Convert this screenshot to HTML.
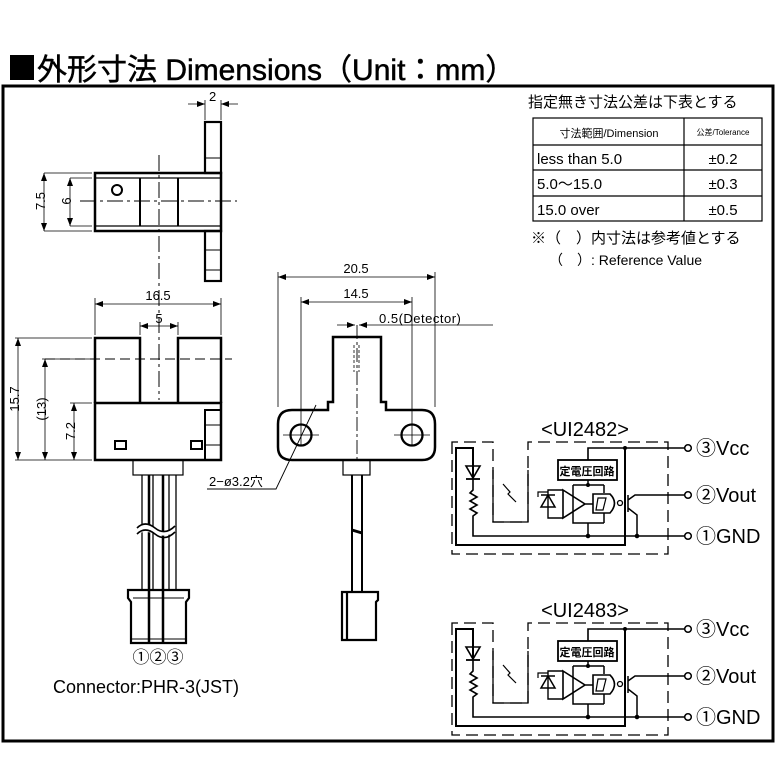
<!DOCTYPE html>
<html><head><meta charset="utf-8"><style>
html,body{margin:0;padding:0;background:#fff;}
svg{display:block;}
text{font-family:"Liberation Sans","Noto Sans CJK JP",sans-serif;fill:#000;}
</style></head><body>
<svg width="779" height="779" viewBox="0 0 779 779" xmlns="http://www.w3.org/2000/svg">
<defs>
<marker id="ar" markerWidth="8" markerHeight="6" refX="8" refY="3" orient="auto-start-reverse" markerUnits="userSpaceOnUse"><path d="M0,0 L8,3 L0,6 z" fill="#000"/></marker>
<g id="circ" fill="none" stroke="#000">
  <path d="M452,442 L452,554 L668,554 L668,442 L528,442 L528,522 L493,522 L493,442 Z" stroke-width="1.3" stroke-dasharray="12,6"/>
  <path d="M493,470 L493,522 L528,522 L528,470" stroke-width="1.3"/>
  <path d="M473,478 L473,448 L456,448 L456,545 L625,545 L625,448" stroke-width="2"/>
  <path d="M588,460 L588,448 L685,448" stroke-width="1.6"/>
  <path d="M466,466 L480,466 L473,478 Z" stroke-width="1.6"/>
  <path d="M466,479 L480,479" stroke-width="1.8"/>
  <path d="M473,479 L473,490 L470,493 L477,497 L470,501 L477,505 L470,509 L477,513 L473,516 L473,536 L685,536" stroke-width="1.6"/>
  <path d="M503,484 L510,492 L508,494 L516,502" stroke-width="1.2"/>
  <rect x="558" y="460" width="59" height="20" stroke-width="1.8"/>
  <path d="M588,480 L588,485 M573,485 L604,485 M573,485 L573,523 L604,523 M604,485 L604,493 M604,513 L604,523 M588,523 L588,536" stroke-width="1.5"/>
  <path d="M548,495 L548,490 L563,490 M548,512 L548,518 L563,518 M548,495 L548,512" stroke-width="1.4"/>
  <path d="M541,507 L555,507 L548,495 Z M541,495 L555,495" stroke-width="1.5"/>
  <path d="M538,497 L538,492 L548,492" stroke-width="1.2"/>
  <path d="M563,490 L585,504 L563,518 Z M585,504 L593,504" stroke-width="1.6"/>
  <path d="M593,494 L610,494 Q619,503 610,513 L593,513 Z" stroke-width="1.6"/>
  <path d="M598,498 L606,498 L603,510 L596,510 Z" stroke-width="1.2"/>
  <circle cx="620" cy="503" r="2.5" stroke-width="1.3"/>
  <path d="M628,495 L628,512 M628,500 L635,495 L685,495 M628,508 L637,515 L637,536" stroke-width="1.5"/>
  <circle cx="588" cy="536" r="1.8" fill="#000"/>
  <circle cx="637" cy="536" r="1.8" fill="#000"/>
  <circle cx="625" cy="448" r="1.5" fill="#000"/>
  <circle cx="588" cy="485" r="1.5" fill="#000"/>
  <circle cx="688" cy="448" r="3.3" fill="#fff" stroke-width="1.5"/>
  <circle cx="688" cy="495" r="3.3" fill="#fff" stroke-width="1.5"/>
  <circle cx="688" cy="536" r="3.3" fill="#fff" stroke-width="1.5"/>
</g>
</defs>

<rect x="10" y="55" width="24" height="25" fill="#000"/>
<text x="37" y="80" font-size="30" stroke="#000" stroke-width="0.5">外形寸法 Dimensions（Unit：mm）</text>
<rect x="3" y="86" width="770" height="655" fill="none" stroke="#000" stroke-width="3"/>

<g fill="none" stroke="#000">
<rect x="95" y="173" width="126" height="58" stroke-width="2.5"/>
<path d="M95,178 L221,178 M95,226 L221,226" stroke-width="1.2"/>
<path d="M140,178 L140,226 M178,178 L178,226" stroke-width="2"/>
<rect x="205" y="122" width="16" height="51" stroke-width="2.2"/>
<rect x="205" y="231" width="16" height="50" stroke-width="2.2"/>
<path d="M205,158 L221,158 M205,250 L221,250 M205,270 L221,270" stroke-width="1"/>
<circle cx="117" cy="190" r="5" stroke-width="2"/>
<path d="M80,201 L237,201" stroke-width="1" stroke-dasharray="16,4,3,4"/>
<path d="M159,155 L159,400" stroke-width="1" stroke-dasharray="16,4,3,4"/>
<path d="M205,120 L205,100 M221,120 L221,100" stroke-width="0.8"/>
<path d="M188,104 L205,104" stroke-width="0.8" marker-end="url(#ar)"/>
<path d="M238,104 L221,104" stroke-width="0.8" marker-end="url(#ar)"/>
<path d="M44,173 L92,173 M44,231 L92,231 M70,178 L92,178 M70,226 L92,226" stroke-width="0.8"/>
<path d="M44,190 L44,173" stroke-width="0.8" marker-end="url(#ar)"/>
<path d="M44,215 L44,231" stroke-width="0.8" marker-end="url(#ar)"/>
<path d="M44,190 L44,215 M70,190 L70,215" stroke-width="0.8"/>
<path d="M70,190 L70,178" stroke-width="0.8" marker-end="url(#ar)"/>
<path d="M70,215 L70,226" stroke-width="0.8" marker-end="url(#ar)"/>

<path d="M95,403 L95,338 L140,338 L140,403" stroke-width="2.5"/>
<path d="M178,403 L178,338 L221,338 L221,403" stroke-width="2.5"/>
<rect x="95" y="403" width="126" height="57" stroke-width="2.5"/>
<rect x="205" y="410" width="16" height="50" stroke-width="2"/>
<path d="M205,425 L221,425 M205,445 L221,445" stroke-width="1"/>
<rect x="115" y="441" width="11" height="8" stroke-width="2"/>
<rect x="191" y="441" width="11" height="8" stroke-width="2"/>
<path d="M45,359 L232,359" stroke-width="1" stroke-dasharray="10,5"/>
<path d="M95,335 L95,298 M221,335 L221,298 M140,335 L140,322 M178,335 L178,322" stroke-width="0.8"/>
<path d="M130,304 L95,304" stroke-width="0.8" marker-end="url(#ar)"/>
<path d="M190,304 L221,304" stroke-width="0.8" marker-end="url(#ar)"/>
<path d="M130,304 L190,304" stroke-width="0.8"/>
<path d="M159,326 L140,326" stroke-width="0.8" marker-end="url(#ar)"/>
<path d="M159,326 L178,326" stroke-width="0.8" marker-end="url(#ar)"/>
<path d="M15,338 L92,338 M15,460 L92,460 M42,359 L92,359 M70,403 L92,403" stroke-width="0.8"/>
<path d="M18,400 L18,338" stroke-width="0.8" marker-end="url(#ar)"/>
<path d="M18,400 L18,460" stroke-width="0.8" marker-end="url(#ar)"/>
<path d="M45,410 L45,359" stroke-width="0.8" marker-end="url(#ar)"/>
<path d="M45,410 L45,460" stroke-width="0.8" marker-end="url(#ar)"/>
<path d="M74,430 L74,403" stroke-width="0.8" marker-end="url(#ar)"/>
<path d="M74,430 L74,460" stroke-width="0.8" marker-end="url(#ar)"/>
<rect x="133" y="460" width="50" height="15" stroke-width="1.2"/>
<path d="M142,475 L142,590 M153,475 L153,590 M169,475 L169,590 M176,475 L176,590" stroke-width="1.3"/>
<path d="M149,475 L149,643 M163,475 L163,643" stroke-width="2.5"/>
<path d="M137,528 Q145,520 155,528 T175,526 L175,532 Q165,538 155,534 T137,534 Z" stroke-width="0" fill="#fff"/>
<path d="M137,528 Q145,520 155,528 T175,526" stroke-width="1.6"/>
<path d="M137,534 Q145,526 155,534 T175,532" stroke-width="1.6"/>
<path d="M128,590 L189,590 L189,598 L186,602 L186,643 L131,643 L131,602 L128,598 Z" stroke-width="2.2"/>
<path d="M131,639 L186,639 M133,598 L184,598" stroke-width="1"/>

<path d="M333,402 L333,337 L381,337 L381,402 L386,402 L386,410 L422,410 Q435,410 435,424 L435,447 Q435,460 422,460 L292,460 Q278,460 278,447 L278,424 Q278,410 292,410 L328,410 L328,402 Z" stroke-width="2.5"/>
<circle cx="301" cy="435" r="10.5" stroke-width="2.3"/>
<circle cx="412" cy="435" r="10.5" stroke-width="2.3"/>
<path d="M283,435 L319,435 M394,435 L430,435" stroke-width="0.8"/>
<path d="M357,325 L357,460" stroke-width="0.9" stroke-dasharray="14,3,3,3"/>
<path d="M354,345 L354,372 M359,345 L359,372" stroke-width="0.8" stroke-dasharray="3,2"/>
<path d="M278,407 L278,272 M435,407 L435,272 M301,445 L301,297 M412,445 L412,297" stroke-width="0.8"/>
<path d="M356,277 L278,277" stroke-width="0.8" marker-end="url(#ar)"/>
<path d="M356,277 L435,277" stroke-width="0.8" marker-end="url(#ar)"/>
<path d="M356,302 L301,302" stroke-width="0.8" marker-end="url(#ar)"/>
<path d="M356,302 L412,302" stroke-width="0.8" marker-end="url(#ar)"/>
<path d="M337,325 L355,325" stroke-width="0.8" marker-end="url(#ar)"/>
<path d="M378,325 L493,325" stroke-width="0.8"/>
<path d="M378,325 L359,325" stroke-width="0.8" marker-end="url(#ar)"/>
<path d="M207,489 L276,489 L316,405" stroke-width="0.9"/>
<rect x="343" y="460" width="27" height="15" stroke-width="1.2"/>
<path d="M352,475 L352,592 M362,475 L362,592" stroke-width="2"/>
<path d="M352,530 L362,533" stroke-width="3"/>
<path d="M342,592 L378,592 L378,600 L376,602 L376,640 L342,640 Z M347,592 L347,640" stroke-width="2.2"/>
</g>

<g font-size="13">
<text x="209" y="101">2</text>
<text x="40" y="206" transform="rotate(-90 40 201)" text-anchor="middle">7.5</text>
<text x="66" y="206" transform="rotate(-90 66 201)" text-anchor="middle">6</text>
<text x="158" y="300" text-anchor="middle">16.5</text>
<text x="159" y="323" text-anchor="middle">5</text>
<text x="14" y="404" transform="rotate(-90 14 399)" text-anchor="middle">15.7</text>
<text x="41" y="414" transform="rotate(-90 41 409)" text-anchor="middle">(13)</text>
<text x="70" y="436" transform="rotate(-90 70 431)" text-anchor="middle">7.2</text>
<text x="356" y="273" text-anchor="middle">20.5</text>
<text x="356" y="298" text-anchor="middle">14.5</text>
<text x="379" y="323" letter-spacing="0.5">0.5(Detector)</text>
<text x="209" y="486">2−ø3.2穴</text>
</g>
<text x="158" y="663" font-size="17" text-anchor="middle">①②③</text>
<text x="53" y="693" font-size="18">Connector:PHR-3(JST)</text>

<text x="528" y="107" font-size="15">指定無き寸法公差は下表とする</text>
<g fill="none" stroke="#000" stroke-width="1.2">
<rect x="533" y="118" width="229" height="103"/>
<path d="M533,145 L762,145 M533,170 L762,170 M533,196 L762,196 M684,118 L684,221"/>
</g>
<text x="609" y="137" font-size="11" text-anchor="middle">寸法範囲/Dimension</text>
<text x="723" y="135" font-size="8" text-anchor="middle">公差/Tolerance</text>
<text x="537" y="164" font-size="15">less than 5.0</text>
<text x="537" y="189" font-size="15">5.0〜15.0</text>
<text x="537" y="215" font-size="15">15.0 over</text>
<text x="723" y="164" font-size="15" text-anchor="middle">±0.2</text>
<text x="723" y="189" font-size="15" text-anchor="middle">±0.3</text>
<text x="723" y="215" font-size="15" text-anchor="middle">±0.5</text>
<text x="531" y="243" font-size="15">※（　）内寸法は参考値とする</text>
<text x="549" y="265" font-size="14">（　）: Reference Value</text>

<use href="#circ"/>
<use href="#circ" transform="translate(0,181)"/>
<g font-size="20">
<text x="585" y="436" text-anchor="middle">&lt;UI2482&gt;</text>
<text x="585" y="617" text-anchor="middle">&lt;UI2483&gt;</text>
<text x="696" y="455">③Vcc</text>
<text x="696" y="502">②Vout</text>
<text x="696" y="543">①GND</text>
<text x="696" y="636">③Vcc</text>
<text x="696" y="683">②Vout</text>
<text x="696" y="724">①GND</text>
</g>
<g font-size="11" font-weight="bold">
<text x="587" y="475" text-anchor="middle">定電圧回路</text>
<text x="587" y="656" text-anchor="middle">定電圧回路</text>
</g>
</svg>
</body></html>
